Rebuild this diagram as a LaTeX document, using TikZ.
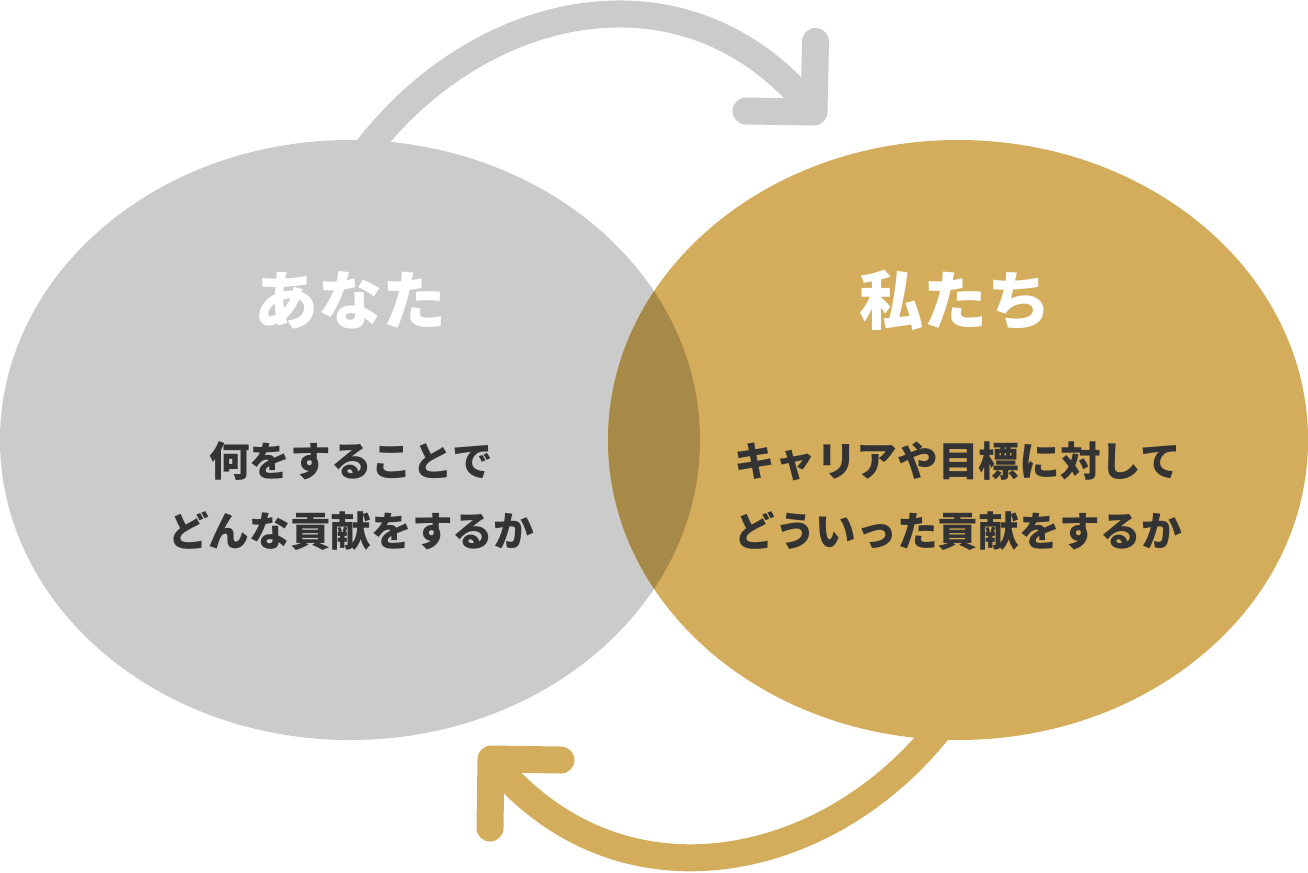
\documentclass[tikz,border=0pt]{standalone}
\usepackage{fontspec}
\newfontfamily\jp{Noto Sans CJK JP}
\definecolor{grayc}{RGB}{203,203,203}
\definecolor{goldc}{RGB}{211,173,91}
\definecolor{overc}{RGB}{168,138,72}
\definecolor{txt}{RGB}{51,51,51}
\begin{document}
\begin{tikzpicture}[x=0.75pt,y=-0.75pt,
 arcline/.style={line width=20.25pt},
 headline/.style={line width=20.25pt,line cap=round,line join=round},
 titletext/.style={text=white,font=\jp\bfseries\fontsize{48}{56}\selectfont,inner sep=0pt},
 bodytext/.style={text=txt,font=\jp\bfseries\fontsize{30.5}{52.5}\selectfont,align=center,inner sep=0pt}]
\useasboundingbox (0,0) rectangle (1308,872);
% arcs (ends hidden under the ellipses)
\draw[arcline,grayc] (365,152) .. controls (480,0) and (690,-45) .. (814,112);
\draw[arcline,goldc] (940,728) .. controls (828,871) and (618,916) .. (491,759);
% ellipses
\fill[grayc] (350,440) ellipse [x radius=350, y radius=300];
\fill[goldc] (958,440) ellipse [x radius=350, y radius=300];
\begin{scope}
\clip (350,440) ellipse [x radius=350, y radius=300];
\fill[overc] (958,440) ellipse [x radius=350, y radius=300];
\end{scope}
% arrow heads
\coordinate (tipA) at (814,112);
\coordinate (tipB) at (491,759);
\draw[headline,grayc] (815.5,41.5) -- (tipA) -- (746,111);
\draw[headline,goldc] (490,828) -- (tipB) -- (561,760);
% texts
\node[titletext] (you) at (350,300) {あなた};
\node[titletext] (we) at (955,300) {私たち};
\node[bodytext] (youtxt) at (351,496) {何をすることで\\どんな貢献をするか};
\node[bodytext] (wetxt) at (958,496) {キャリアや目標に対して\\どういった貢献をするか};
\end{tikzpicture}
\end{document}
